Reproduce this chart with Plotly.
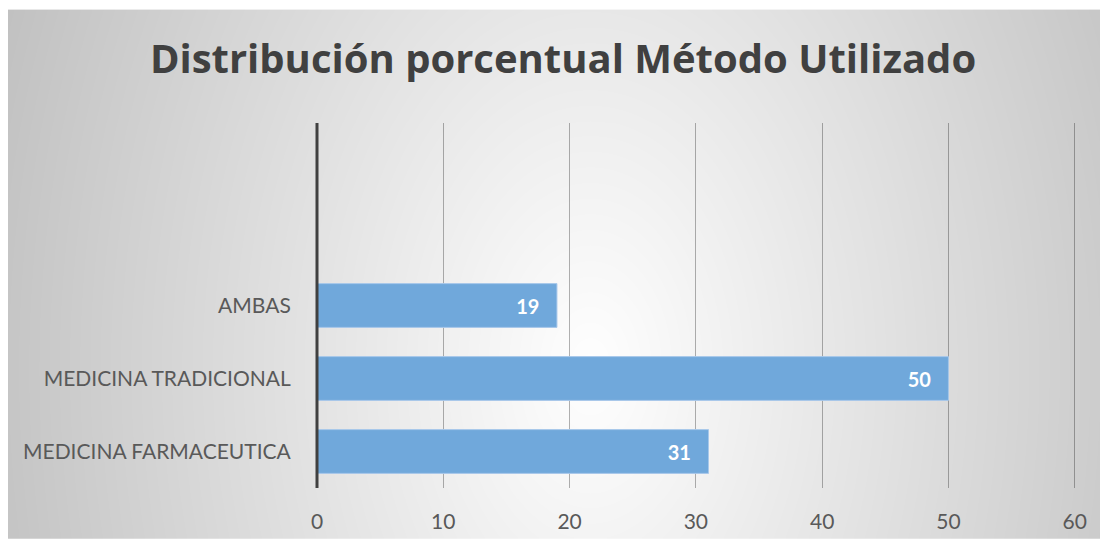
import base64
import struct
import zlib

import numpy as np
import plotly.graph_objects as go

# --- data -------------------------------------------------------------
categories = ["MEDICINA FARMACEUTICA", "MEDICINA TRADICIONAL", "AMBAS"]
values = [31, 50, 19]
x_ticks = [0, 10, 20, 30, 40, 50, 60]
title_text = "Distribución porcentual Método Utilizado"

# --- radial grey background rendered as a small PNG --------------------
W_IMG, H_IMG = 1092, 532


def radial_png(w, h, cx, cy, kx, ky):
    yy, xx = np.mgrid[0:h, 0:w].astype(float)
    d = np.sqrt(((xx - cx) * kx) ** 2 + ((yy - cy) * ky) ** 2)
    v = np.clip(255.0 - d, 185, 255).astype(np.uint8)
    raw = b"".join(b"\x00" + row.tobytes() for row in v)

    def chunk(tag, data):
        return (struct.pack(">I", len(data)) + tag + data
                + struct.pack(">I", zlib.crc32(tag + data) & 0xFFFFFFFF))

    png = (b"\x89PNG\r\n\x1a\n"
           + chunk(b"IHDR", struct.pack(">IIBBBBB", w, h, 8, 0, 0, 0, 0))
           + chunk(b"IDAT", zlib.compress(raw, 9))
           + chunk(b"IEND", b""))
    return "data:image/png;base64," + base64.b64encode(png).decode()


bg_src = radial_png(W_IMG, H_IMG, 582, 361, 0.098, 0.064)

# --- figure -----------------------------------------------------------
FIG_W, FIG_H = 1104, 545
X_MAX = 60.1          # a hair past 60 so the last gridline is drawn
M_L, M_R, M_T, M_B = 317, 28, 123, 55
plot_w = FIG_W - M_L - M_R
plot_h = FIG_H - M_T - M_B

fig = go.Figure()
fig.add_trace(go.Bar(
    x=values,
    y=categories,
    orientation="h",
    width=0.6,
    marker=dict(color="#70a8db", line=dict(color="#a8c8ea", width=1)),
    text=values,
    texttemplate="%{text}\u00a0\u00a0\u00a0",
    textposition="inside",
    insidetextanchor="end",
    textfont=dict(family="Lato", size=20, color="white", weight="bold"),
    hoverinfo="skip",
))

# vertical axis line along the left edge of the plotting area
fig.add_shape(type="line", xref="paper", yref="paper", x0=0, x1=0, y0=0, y1=1,
              line=dict(color="#404040", width=3), layer="above")

fig.update_layout(
    width=FIG_W,
    height=FIG_H,
    margin=dict(l=M_L, r=M_R, t=M_T, b=M_B, pad=0),
    paper_bgcolor="white",
    plot_bgcolor="rgba(0,0,0,0)",
    showlegend=False,
    bargap=0.4,
    title=dict(
        text=title_text,
        x=0.51, xref="container", xanchor="center",
        y=1 - 59 / FIG_H, yref="container", yanchor="middle",
        font=dict(family="Open Sans", size=40, color="#404040", weight="bold"),
    ),
    images=[dict(
        source=bg_src,
        xref="paper", yref="paper",
        x=(8 - M_L) / plot_w, y=(M_T + plot_h - 9) / plot_h,
        sizex=W_IMG / plot_w, sizey=H_IMG / plot_h,
        xanchor="left", yanchor="top",
        sizing="stretch", layer="below",
    )],
    xaxis=dict(
        range=[0, X_MAX],
        tickvals=x_ticks,
        showgrid=True,
        gridcolor="rgba(0,0,0,0.3)",
        gridwidth=1,
        zeroline=False,
        showline=False,
        ticks="outside",
        ticklen=15,
        tickcolor="rgba(0,0,0,0)",
        tickfont=dict(family="Lato", size=21, color="#595959"),
        fixedrange=True,
    ),
    yaxis=dict(
        type="category",
        categoryorder="array",
        categoryarray=categories,
        range=[-0.5, 4.5],
        showgrid=False,
        zeroline=False,
        showline=False,
        ticks="outside",
        ticklen=21,
        tickcolor="rgba(0,0,0,0)",
        tickfont=dict(family="Lato", size=21, color="#595959"),
        fixedrange=True,
    ),
)

fig.write_html("out.html")
